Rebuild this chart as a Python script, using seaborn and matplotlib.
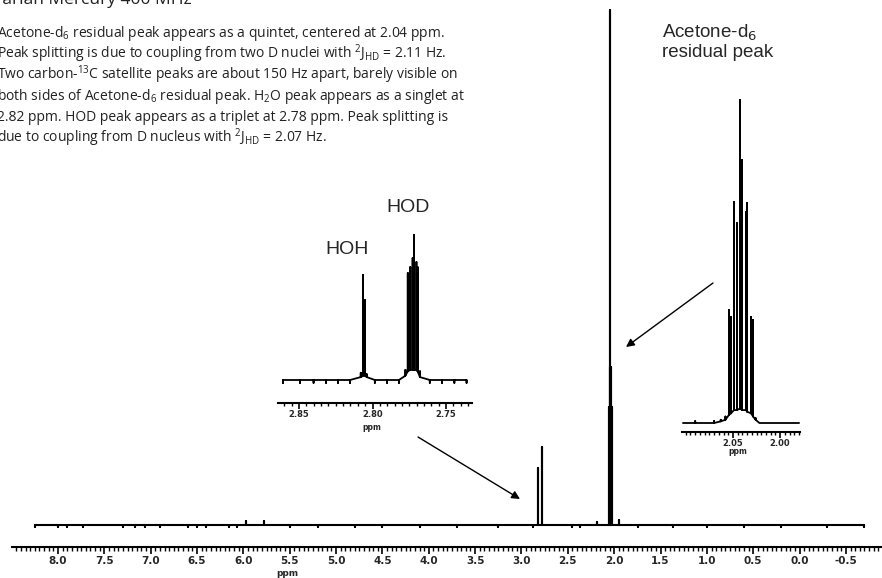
import numpy as np
import pandas as pd
import seaborn as sns
import matplotlib.pyplot as plt
from matplotlib.ticker import MultipleLocator, FormatStrFormatter

# ---- main spectrum (stick picture): ppm, top, foot, relative to tallest line
main_ppm = [8.25, 8.0, 7.9, 7.73, 7.3, 7.17, 7.06, 6.9, 6.6, 6.5, 6.4, 6.15, 6.07, 5.97, 5.78, 5.5,
            5.2, 4.8, 4.5, 4.1, 3.7, 3.25, 2.88, 2.82, 2.78, 2.45, 2.37, 2.19,
            2.06, 2.05, 2.04, 2.03, 2.02, 1.95, 1.74, 1.37, 1.0, 0.6, 0.2, -0.3, -0.7]
main_top = [-0.004, -0.004, -0.003, -0.004, -0.004, -0.003, -0.004, -0.003, -0.004, -0.003, -0.004, -0.004, -0.003, 0.007, 0.007, -0.004,
            -0.003, -0.004, -0.003, -0.004, -0.003, -0.004, -0.004, 0.111, 0.151, -0.003, -0.004, 0.006,
            0.229, 0.307, 1.0, 0.307, 0.229, 0.010, -0.004, -0.004, -0.003, -0.004, -0.003, -0.004, -0.003]
main_foot = [0.0] * len(main_ppm)
main_xlim = (8.496, -0.889)

# ---- inset 1: HOH / HOD
hod_ppm = [2.8609, 2.8493, 2.8401, 2.8316, 2.8235, 2.8153, 2.8080, 2.8065, 2.8051, 2.8039, 2.7984, 2.7901, 2.7820,
           2.7776, 2.7760, 2.7743, 2.7727, 2.7718, 2.7701, 2.7693, 2.7677, 2.7610, 2.7527, 2.7443, 2.7360]
hod_top = [-0.02, -0.02, -0.02, -0.02, -0.02, -0.02, 0.05, 0.724, 0.552, 0.04, -0.02, -0.02, -0.02,
           0.07, 0.738, 0.779, 0.841, 1.0, 0.814, 0.779, 0.06, -0.02, -0.02, -0.02, -0.02]
hod_foot = [0.0, 0.0, 0.0, 0.0, 0.0, 0.0, 0.02, 0.03, 0.03, 0.02, 0.0, 0.0, 0.0,
            0.03, 0.06, 0.07, 0.07, 0.07, 0.07, 0.06, 0.02, 0.0, 0.0, 0.0, 0.0]
hod_xlim = (2.8643, 2.7323)
hod_ticks = [2.85, 2.80, 2.75]

# ---- inset 2: acetone-d6 quintet
ace_ppm = [2.103, 2.09, 2.08, 2.07, 2.063, 2.058, 2.0543, 2.0521, 2.0489, 2.0457, 2.0426, 2.0404,
           2.0362, 2.0351, 2.0309, 2.0287, 2.026, 2.022, 2.01, 2.00, 1.99, 1.98]
ace_top = [0.0, 0.006, 0.0, 0.006, 0.01, 0.02, 0.350, 0.328, 0.684, 0.619, 1.0, 0.814,
           0.653, 0.681, 0.328, 0.319, 0.015, 0.0, 0.0, 0.0, 0.0, 0.0]
ace_foot = [0.0, 0.0, 0.0, 0.0, 0.005, 0.01, 0.025, 0.03, 0.04, 0.04, 0.045, 0.04,
            0.04, 0.035, 0.03, 0.02, 0.01, 0.0, 0.0, 0.0, 0.0, 0.0]
ace_xlim = (2.104, 1.979)
ace_ticks = [2.05, 2.00]

paragraph = [
    r'Acetone-d$_6$ residual peak appears as a quintet, centered at 2.04 ppm.',
    r'Peak splitting is due to coupling from two D nuclei with $^2$J$_{\mathrm{HD}}$ = 2.11 Hz.',
    r'Two carbon-$^{13}$C satellite peaks are about 150 Hz apart, barely visible on',
    r'both sides of Acetone-d$_6$ residual peak. H$_2$O peak appears as a singlet at',
    r'2.82 ppm. HOD peak appears as a triplet at 2.78 ppm. Peak splitting is',
    r'due to coupling from D nucleus with $^2$J$_{\mathrm{HD}}$ = 2.07 Hz.',
]

sns.set_theme(style='white')
plt.rcParams['font.family'] = ['Open Sans', 'DejaVu Sans']
plt.rcParams['mathtext.fontset'] = 'custom'
plt.rcParams['mathtext.rm'] = 'Open Sans'
plt.rcParams['mathtext.it'] = 'Open Sans:italic'

W, H = 882, 578
fig = plt.figure(figsize=(W / 100, H / 100), dpi=100)


def box(x0, y0, x1, y1):
    # pixel box (top-left origin) -> figure fraction rect
    return [x0 / W, 1 - y1 / H, (x1 - x0) / W, (y1 - y0) / H]


def fp(x, y):
    return (x / W, 1 - y / H)


def trace(ppm, top, foot):
    xs, ys = [], []
    for p, t, f in sorted(zip(ppm, top, foot), reverse=True):
        xs += [p, p, p]
        ys += [f, t, f]
    return pd.DataFrame({'ppm': xs, 'intensity': ys})


def style_axis(ax, major, minor, fmt, size, maj_len, min_len, pad):
    for s in ['top', 'left', 'right']:
        ax.spines[s].set_visible(False)
    ax.spines['bottom'].set_linewidth(1.5)
    ax.spines['bottom'].set_color('black')
    ax.set_facecolor('none')
    ax.set_yticks([])
    ax.set_xlabel('')
    ax.set_ylabel('')
    ax.xaxis.set_major_locator(major)
    ax.xaxis.set_minor_locator(MultipleLocator(minor))
    ax.xaxis.set_major_formatter(FormatStrFormatter(fmt))
    ax.tick_params(axis='x', which='major', bottom=True, direction='out', length=maj_len, width=1.2,
                   color='black', pad=pad, labelsize=size)
    ax.tick_params(axis='x', which='minor', bottom=True, direction='out', length=min_len, width=1.0,
                   color='black')
    for lab in ax.get_xticklabels():
        lab.set_fontfamily('DejaVu Sans')
        lab.set_fontweight('bold')


# main spectrum
ax = fig.add_axes(box(12, 0, 882, 547))
sns.lineplot(data=trace(main_ppm, main_top, main_foot), x='ppm', y='intensity', sort=False,
             estimator=None, color='black', lw=1.5, ax=ax)
ax.set_xlim(*main_xlim)
ax.set_ylim(-22 / 515, 525 / 515)
style_axis(ax, MultipleLocator(0.5), 0.05, '%.1f', 7.5, 5, 3, 1.5)
fig.text(*fp(287, 573), 'ppm', ha='center', va='center', fontsize=6.5, fontweight='bold',
         family='DejaVu Sans')

# inset HOH / HOD
ax1 = fig.add_axes(box(278, 190, 472, 403))
sns.lineplot(data=trace(hod_ppm, hod_top, hod_foot), x='ppm', y='intensity', sort=False,
             estimator=None, color='black', lw=1.3, ax=ax1)
ax1.set_xlim(*hod_xlim)
ax1.set_ylim(-23 / 145, 190 / 145)
style_axis(ax1, plt.FixedLocator(hod_ticks), 0.005, '%.2f', 6, 4, 2.5, 1)
fig.text(*fp(372, 428), 'ppm', ha='center', va='center', fontsize=5.5, fontweight='bold',
         family='DejaVu Sans')
fig.text(*fp(347, 249), 'HOH', ha='center', va='center', fontsize=14, family='Liberation Sans')
fig.text(*fp(408, 207), 'HOD', ha='center', va='center', fontsize=14, family='Liberation Sans')

# inset acetone-d6
ax2 = fig.add_axes(box(682, 90, 800, 432))
sns.lineplot(data=trace(ace_ppm, ace_top, ace_foot), x='ppm', y='intensity', sort=False,
             estimator=None, color='black', lw=1.3, ax=ax2)
ax2.set_xlim(*ace_xlim)
ax2.set_ylim(-9 / 323, 333 / 323)
style_axis(ax2, plt.FixedLocator(ace_ticks), 0.005, '%.2f', 6, 4, 2.5, 1)
fig.text(*fp(738, 452), 'ppm', ha='center', va='center', fontsize=5.5, fontweight='bold',
         family='DejaVu Sans')
fig.text(*fp(662, 38), r'Acetone-d$_6$', ha='left', va='baseline', fontsize=13.5,
         family='Liberation Sans', math_fontfamily='dejavusans')
fig.text(*fp(662, 57), 'residual peak', ha='left', va='baseline', fontsize=13.5,
         family='Liberation Sans')

# arrows
arrow = dict(arrowstyle='-|>', lw=1.0, color='black', mutation_scale=12, shrinkA=0, shrinkB=0)
ax.annotate('', xy=fp(520, 499), xytext=fp(418, 437), xycoords='figure fraction',
            textcoords='figure fraction', arrowprops=arrow)
ax.annotate('', xy=fp(626, 347), xytext=fp(713, 283), xycoords='figure fraction',
            textcoords='figure fraction', arrowprops=arrow)

# text block
fig.text(*fp(-8, 4), 'Varian Mercury 400 MHz', ha='left', va='baseline', fontsize=12.5,
         color='#222222')
for i, line in enumerate(paragraph):
    fig.text(*fp(-3, 37 + 21 * i), line, ha='left', va='baseline', fontsize=10, color='#222222')

fig.savefig('out.png', dpi=100)
